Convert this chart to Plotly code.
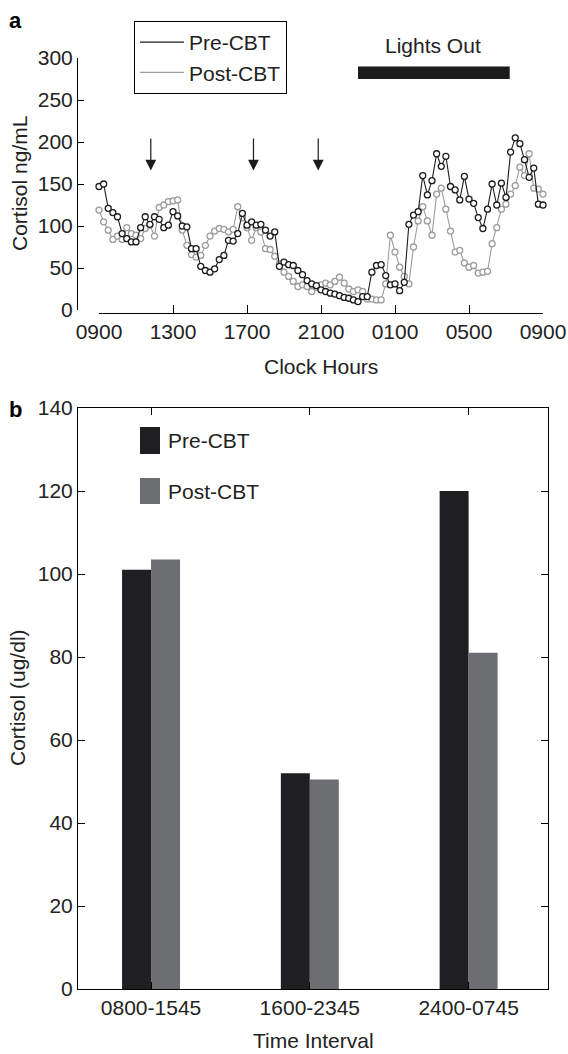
import plotly.graph_objects as go

W, H = 568, 1054

# ---- panel a: 24-h cortisol profile, 15-min samples from 0900 to 0900 ----
sample_step_h = 0.25
pre_cbt = [147, 150, 121, 116, 111, 91, 85, 81, 81, 98, 111, 102, 111, 108, 98, 101,
           117, 112, 100, 99, 73, 73, 52, 47, 45, 49, 60, 65, 83, 82, 91, 115,
           101, 105, 101, 102, 95, 88, 93, 52, 57, 54, 53, 47, 42, 35, 31, 29,
           24, 22, 20, 19, 17, 15, 14, 12, 10, 16, 16, 45, 53, 54, 41, 30,
           31, 23, 33, 102, 113, 117, 160, 137, 154, 186, 171, 183, 147, 143, 131, 159,
           132, 127, 110, 97, 120, 150, 125, 151, 134, 188, 205, 198, 179, 158, 169, 126,
           125]
post_cbt = [119, 105, 95, 84, 88, 84, 98, 91, 89, 85, 97, 101, 88, 122, 125, 129,
            130, 131, 95, 77, 66, 63, 65, 77, 88, 94, 97, 96, 93, 96, 123, 110,
            98, 83, 98, 93, 73, 72, 64, 55, 45, 40, 34, 28, 30, 28, 22, 27,
            30, 32, 30, 34, 39, 32, 25, 22, 24, 22, 13, 13, 12, 12, 31, 89,
            69, 51, 40, 31, 75, 106, 123, 106, 89, 138, 145, 120, 94, 69, 71, 56,
            51, 53, 44, 45, 46, 79, 98, 120, 126, 138, 148, 170, 160, 186, 145, 144,
            138]
hours = [i * sample_step_h for i in range(len(pre_cbt))]

clock_tick_hours = [0, 4, 8, 12, 16, 20, 24]
clock_tick_labels = ["0900", "1300", "1700", "2100", "0100", "0500", "0900"]
cortisol_ticks_a = [0, 50, 100, 150, 200, 250, 300]

arrow_hours = [2.8, 8.35, 11.85]          # hours after 0900
lights_out_span = [14.0, 22.2]            # hours after 0900

# ---- panel b: mean cortisol per interval ----
intervals = ["0800-1545", "1600-2345", "2400-0745"]
pre_means = [101, 52, 120]
post_means = [103.5, 50.5, 81]
cortisol_ticks_b = [0, 20, 40, 60, 80, 100, 120, 140]

series_names = ["Pre-CBT", "Post-CBT"]
FONT = "Liberation Sans, Arial, Helvetica, sans-serif"
DARK = "#1c1c1c"
GREY_LINE = "#9c9c9c"
BAR_DARK = "#1f1f21"
BAR_GREY = "#6d6e71"
TXT = "#222"
FS = 21


def px(x):
    return x / W


def py(y):
    return 1 - y / H


def label(x, y, text, size=FS, angle=0, color=TXT):
    return dict(xref="paper", yref="paper", x=px(x), y=py(y), text=text,
                xanchor="center", yanchor="middle", showarrow=False, textangle=angle,
                font=dict(family=FONT, size=size, color=color))


fig = go.Figure()

# panel a traces (post first so pre sits on top)
fig.add_trace(go.Scatter(
    x=hours, y=post_cbt, mode="lines+markers", name=series_names[1],
    line=dict(color=GREY_LINE, width=1.1),
    marker=dict(symbol="circle", size=6, color="white",
                line=dict(color=GREY_LINE, width=1.3)),
    cliponaxis=False, xaxis="x", yaxis="y", showlegend=False))
fig.add_trace(go.Scatter(
    x=hours, y=pre_cbt, mode="lines+markers", name=series_names[0],
    line=dict(color=DARK, width=1.1),
    marker=dict(symbol="circle", size=6, color="white",
                line=dict(color=DARK, width=1.3)),
    cliponaxis=False, xaxis="x", yaxis="y", showlegend=False))

# legend entries (line samples only)
for name, col in zip(series_names, [DARK, GREY_LINE]):
    fig.add_trace(go.Scatter(x=[None], y=[None], mode="lines", name=name,
                             line=dict(color=col, width=1.2),
                             xaxis="x", yaxis="y", showlegend=True))

# panel b bars
fig.add_trace(go.Bar(x=intervals, y=pre_means, name=series_names[0],
                     marker=dict(color=BAR_DARK, line=dict(width=0)),
                     xaxis="x2", yaxis="y2", showlegend=False))
fig.add_trace(go.Bar(x=intervals, y=post_means, name=series_names[1],
                     marker=dict(color=BAR_GREY, line=dict(width=0)),
                     xaxis="x2", yaxis="y2", showlegend=False))

axis_common = dict(showgrid=False, zeroline=False, showline=True, automargin=False,
                   linecolor="black", linewidth=1, ticks="inside",
                   tickcolor="black", tickwidth=1,
                   tickfont=dict(family=FONT, size=FS, color=TXT))

shapes = []
annotations = []

# Lights Out bar
shapes.append(dict(type="rect", xref="x", yref="y",
                   x0=lights_out_span[0], x1=lights_out_span[1], y0=275, y1=290,
                   fillcolor=DARK, line=dict(width=0)))
annotations.append(label(433, 45, "Lights Out"))

# arrows
for h in arrow_hours:
    annotations.append(dict(xref="x", yref="y", x=h, y=166, axref="x", ayref="y",
                            ax=h, ay=206, text="", showarrow=True, arrowhead=2,
                            arrowsize=1.8, arrowwidth=1.2, arrowcolor=DARK))

# legend for panel b
leg_rows = [(BAR_DARK, series_names[0], 427, 454), (BAR_GREY, series_names[1], 478, 504)]
for col, name, y0, y1 in leg_rows:
    shapes.append(dict(type="rect", xref="paper", yref="paper",
                       x0=px(140), x1=px(160), y0=py(y1), y1=py(y0),
                       fillcolor=col, line=dict(width=0)))
    annotations.append(dict(xref="paper", yref="paper", x=px(166), y=py((y0 + y1) / 2),
                            xanchor="left", yanchor="middle", text=name, showarrow=False,
                            font=dict(family=FONT, size=FS, color=TXT)))

# titles and panel letters
annotations += [
    label(321, 367, "Clock Hours"),
    label(19, 184, "Cortisol ng/mL", angle=-90),
    label(313, 1040, "Time Interval"),
    label(17, 698, "Cortisol (ug/dl)", angle=-90),
    label(15, 21, "<b>a</b>", size=22, color="black"),
    label(15, 409, "<b>b</b>", size=22, color="black"),
]

fig.update_layout(
    width=W, height=H, margin=dict(l=0, r=0, t=0, b=0, pad=0, autoexpand=False),
    paper_bgcolor="white", plot_bgcolor="rgba(0,0,0,0)",
    font=dict(family=FONT, size=FS, color=TXT),
    barmode="group", bargap=0.635, bargroupgap=0,
    xaxis=dict(domain=[px(99), px(543)], range=[0, 24], anchor="free",
               position=py(313), tickvals=clock_tick_hours, ticktext=clock_tick_labels,
               ticklen=8, **axis_common),
    yaxis=dict(domain=[py(310), py(58)], range=[0, 300], anchor="free",
               position=px(77), tickvals=cortisol_ticks_a, ticklen=6, **axis_common),
    xaxis2=dict(domain=[px(78), px(548)], anchor="y2", mirror="ticks",
                range=[-0.46, 2.5], ticklen=7, **axis_common),
    yaxis2=dict(domain=[py(989), py(408)], range=[0, 140], anchor="x2",
                tickvals=cortisol_ticks_b, mirror="ticks", ticklen=7, **axis_common),
    legend=dict(x=px(134), y=py(21), xanchor="left", yanchor="top",
                bordercolor="black", borderwidth=1, bgcolor="white",
                font=dict(family=FONT, size=FS, color=TXT),
                tracegroupgap=0, itemwidth=44),
    shapes=shapes, annotations=annotations,
)

fig.write_html("out.html")
